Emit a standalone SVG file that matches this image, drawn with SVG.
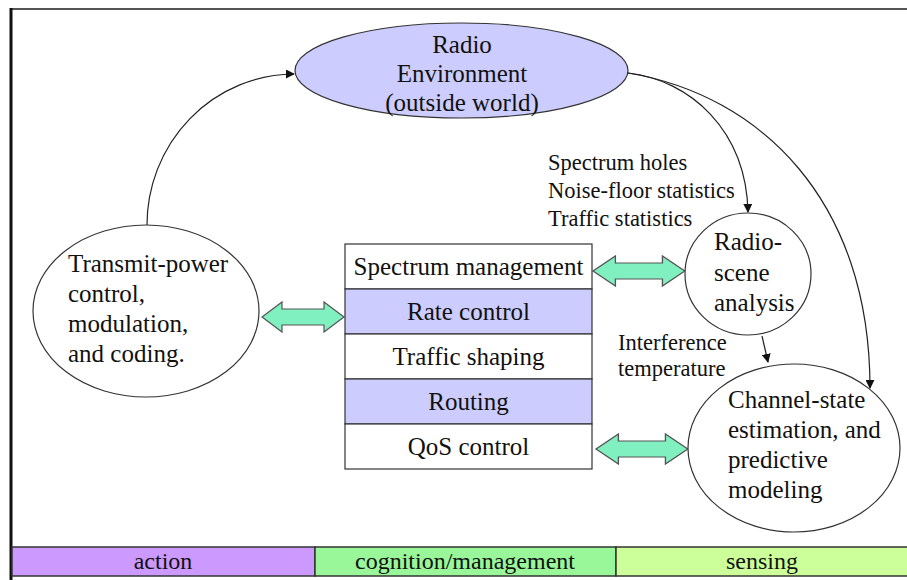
<svg xmlns="http://www.w3.org/2000/svg" width="907" height="580" viewBox="0 0 907 580">
<style>
.mid{text-anchor:middle;}
.node{stroke:#333;stroke-width:1.2;}
.lav{fill:#CCCCFF;}
.wh{fill:#fff;}
.conn{fill:none;stroke:#222;stroke-width:1.2;}
.dbl{fill:#80F0C0;stroke:#555;stroke-width:1.2;}
.bar{stroke:#333;stroke-width:1.5;}
</style>
<defs>
<marker id="ah" viewBox="0 0 10 10" refX="9" refY="5" markerWidth="9" markerHeight="9" markerUnits="userSpaceOnUse" orient="auto">
<path d="M0,0 L10,5 L0,10 z" fill="#111"/>
</marker>
<path id="darrow" d="M0,0 L20,-15 L20,-8 L62,-8 L62,-15 L82,0 L62,15 L62,8 L20,8 L20,15 z"/>
</defs>
<rect x="0" y="0" width="907" height="580" fill="#fff"/>
<g id="frame">
<line x1="10" y1="9" x2="907" y2="9" stroke="#555" stroke-width="2"/>
<line x1="11" y1="8" x2="11" y2="580" stroke="#111" stroke-width="3"/>
</g>
<g id="connectors">
<path class="conn" d="M147,225 A148,151 0 0 1 294,74" marker-end="url(#ah)"/>
<path class="conn" d="M628,73 C690,80 746,130 748,212" marker-end="url(#ah)"/>
<path class="conn" d="M628,73 C760,95 870,200 870,388" marker-end="url(#ah)"/>
<path class="conn" d="M762,336 L768,362" marker-end="url(#ah)"/>
<use href="#darrow" class="dbl" transform="translate(262,317)"/>
<use href="#darrow" class="dbl" transform="translate(593,271) scale(1.12,1)"/>
<use href="#darrow" class="dbl" transform="translate(596,449) scale(1.12,1)"/>
</g>
<g id="radio-environment">
<ellipse class="node lav" cx="461.5" cy="70.5" rx="166.5" ry="47.5"/>
<g>
<text class="mid" x="462" y="53" font-family="Liberation Serif, serif" font-size="25" fill="#111">Radio</text>
<text class="mid" x="462" y="82" font-family="Liberation Serif, serif" font-size="25" fill="#111">Environment</text>
<text class="mid" x="462" y="111" font-family="Liberation Serif, serif" font-size="25" fill="#111">(outside world)</text>
</g>
</g>
<g id="action-node">
<ellipse class="node wh" cx="146" cy="311" rx="113" ry="86"/>
<g>
<text x="68" y="272" font-family="Liberation Serif, serif" font-size="25" fill="#111">Transmit-power</text>
<text x="68" y="302" font-family="Liberation Serif, serif" font-size="25" fill="#111">control,</text>
<text x="68" y="332" font-family="Liberation Serif, serif" font-size="25" fill="#111">modulation,</text>
<text x="68" y="362" font-family="Liberation Serif, serif" font-size="25" fill="#111">and coding.</text>
</g>
</g>
<g id="stack">
<rect class="node wh" x="345" y="244" width="247" height="45"/>
<rect class="node lav" x="345" y="289" width="247" height="45"/>
<rect class="node wh" x="345" y="334" width="247" height="45"/>
<rect class="node lav" x="345" y="379" width="247" height="45"/>
<rect class="node wh" x="345" y="424" width="247" height="45"/>
<g>
<text class="mid" x="468.5" y="275" font-family="Liberation Serif, serif" font-size="25" fill="#111">Spectrum management</text>
<text class="mid" x="468.5" y="320" font-family="Liberation Serif, serif" font-size="25" fill="#111">Rate control</text>
<text class="mid" x="468.5" y="365" font-family="Liberation Serif, serif" font-size="25" fill="#111">Traffic shaping</text>
<text class="mid" x="468.5" y="410" font-family="Liberation Serif, serif" font-size="25" fill="#111">Routing</text>
<text class="mid" x="468.5" y="455" font-family="Liberation Serif, serif" font-size="25" fill="#111">QoS control</text>
</g>
</g>
<g id="radio-scene">
<ellipse class="node wh" cx="748" cy="274" rx="63" ry="61"/>
<g>
<text x="714" y="250" font-family="Liberation Serif, serif" font-size="25" fill="#111">Radio-</text>
<text x="714" y="281" font-family="Liberation Serif, serif" font-size="25" fill="#111">scene</text>
<text x="714" y="311" font-family="Liberation Serif, serif" font-size="25" fill="#111">analysis</text>
</g>
</g>
<g id="channel-state">
<ellipse class="node wh" cx="794" cy="448" rx="106" ry="84"/>
<g>
<text x="728" y="408" font-family="Liberation Serif, serif" font-size="25" fill="#111">Channel-state</text>
<text x="728" y="438" font-family="Liberation Serif, serif" font-size="25" fill="#111">estimation, and</text>
<text x="728" y="468" font-family="Liberation Serif, serif" font-size="25" fill="#111">predictive</text>
<text x="728" y="498" font-family="Liberation Serif, serif" font-size="25" fill="#111">modeling</text>
</g>
</g>
<g id="labels" font-family="Liberation Serif, serif" font-size="22.5" fill="#111">
<text x="548" y="170">Spectrum holes</text>
<text x="548" y="198">Noise-floor statistics</text>
<text x="548" y="226">Traffic statistics</text>
<text x="618" y="350">Interference</text>
<text x="618" y="376">temperature</text>
</g>
<g id="legend">
<rect class="bar" x="12" y="547" width="303" height="29" fill="#CC99FF"/>
<rect class="bar" x="315" y="547" width="301" height="29" fill="#99F799"/>
<rect class="bar" x="616" y="547" width="295" height="29" fill="#CCFF99"/>
<g>
<text class="mid" x="163" y="569" font-family="Liberation Serif, serif" font-size="24" fill="#111">action</text>
<text class="mid" x="465" y="569" font-family="Liberation Serif, serif" font-size="24" fill="#111">cognition/management</text>
<text class="mid" x="762" y="569" font-family="Liberation Serif, serif" font-size="24" fill="#111">sensing</text>
</g>
</g>
</svg>
